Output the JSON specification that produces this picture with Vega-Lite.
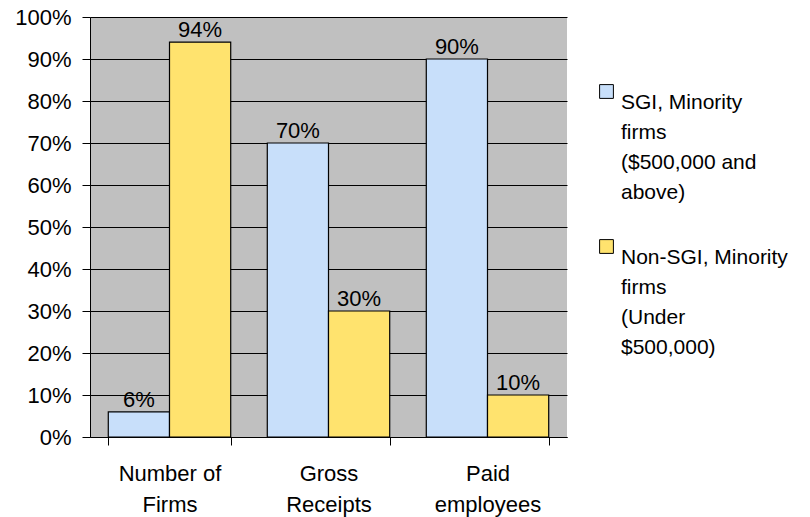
{
  "$schema": "https://vega.github.io/schema/vega-lite/v6.json",
  "width": 477,
  "height": 420,
  "autosize": "none",
  "padding": {"left": 90, "top": 17, "right": 243, "bottom": 80},
  "background": "white",
  "config": {
    "font": "Liberation Sans",
    "view": {"fill": "#C0C0C0", "stroke": null},
    "style": {"guide-label": {"lineHeight": 30}},
    "axis": {"labelFont": "Liberation Sans", "labelColor": "black", "domainColor": "black", "tickColor": "black"}
  },
  "data": {
    "values": [
      {"category": "Number of Firms", "series": "SGI", "value": 0.06},
      {"category": "Number of Firms", "series": "Non-SGI", "value": 0.94},
      {"category": "Gross Receipts", "series": "SGI", "value": 0.70},
      {"category": "Gross Receipts", "series": "Non-SGI", "value": 0.30},
      {"category": "Paid employees", "series": "SGI", "value": 0.90},
      {"category": "Paid employees", "series": "Non-SGI", "value": 0.10}
    ]
  },
  "encoding": {
    "x": {
      "field": "category", "type": "nominal", "sort": null,
      "scale": {"paddingInner": 0.23, "paddingOuter": 0.115},
      "axis": {
        "title": null, "labelAngle": 0, "labelFontSize": 22, "labelPadding": 18,
        "labelLineHeight": 31, "tickBand": "extent", "tickSize": 8, "domainWidth": 1,
        "labelBaseline": "top",
        "labelExpr": "datum.value == 'Number of Firms' ? ['Number of','Firms'] : datum.value == 'Gross Receipts' ? ['Gross','Receipts'] : datum.value == 'Paid employees' ? ['Paid','employees'] : ''"
      }
    },
    "xOffset": {"field": "series", "type": "nominal", "sort": ["SGI", "Non-SGI"], "scale": {"paddingInner": 0, "paddingOuter": 0}},
    "y": {
      "field": "value", "type": "quantitative",
      "scale": {"domain": [0, 1], "nice": false},
      "axis": {
        "title": null, "format": ".0%", "values": [0,0.1,0.2,0.3,0.4,0.5,0.6,0.7,0.8,0.9,1],
        "labelFontSize": 22, "labelPadding": 11, "tickSize": 8, "labelOverlap": false, "labelFlush": false,
        "grid": true, "gridColor": "black", "gridOpacity": 1, "gridWidth": 1
      }
    }
  },
  "layer": [
    {
      "mark": {"type": "bar", "stroke": "black", "strokeWidth": 1.2},
      "encoding": {
        "color": {
          "field": "series", "type": "nominal",
          "scale": {"domain": ["SGI", "Non-SGI"], "range": ["#C8DFFA", "#FFE36E"]},
          "legend": {
            "title": null, "orient": "none", "legendX": 506, "legendY": 64,
            "padding": 0, "symbolType": "square", "symbolSize": 190,
            "symbolStrokeColor": "black", "symbolStrokeWidth": 1, "symbolFillOpacity": 1,
            "labelFontSize": 21, "labelColor": "black", "labelLimit": 0,
            "labelOffset": 4, "rowPadding": 33, "labelBaseline": "top",
            "labelExpr": "datum.value == 'SGI' ? ['SGI, Minority','firms','($500,000 and','above)'] : ['Non-SGI, Minority','firms','(Under','$500,000)']"
          }
        }
      }
    },
    {
      "mark": {"type": "text", "baseline": "alphabetic", "dy": -5, "fontSize": 22, "color": "black"},
      "encoding": {
        "text": {"field": "value", "type": "quantitative", "format": ".0%"}
      }
    }
  ]
}
